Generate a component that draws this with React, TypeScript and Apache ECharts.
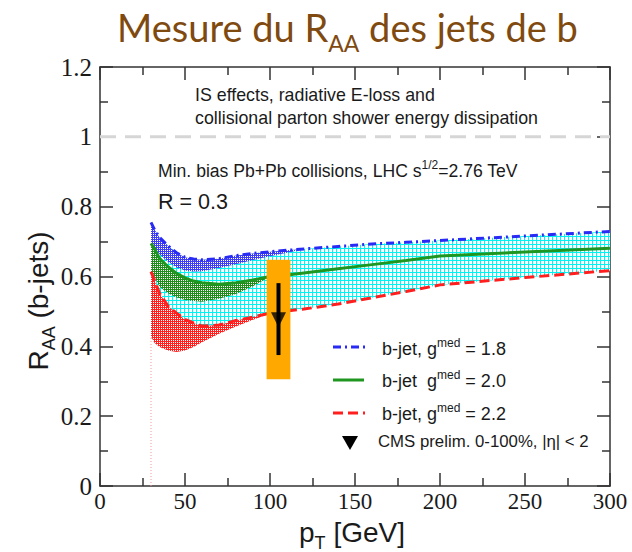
import React, { useEffect, useRef } from 'react';
import * as echarts from 'echarts';

// ---- data ----
const PT = [30, 32, 35, 40, 45, 50, 55, 60, 70, 80, 90, 100, 110, 120, 140, 160, 180, 200, 250, 300];
const G18 = [0.755, 0.735, 0.712, 0.688, 0.668, 0.655, 0.650, 0.648, 0.651, 0.660, 0.666, 0.671, 0.675, 0.679, 0.686, 0.693, 0.698, 0.703, 0.716, 0.729];
const G20 = [0.695, 0.680, 0.652, 0.628, 0.609, 0.596, 0.587, 0.582, 0.578, 0.582, 0.590, 0.600, 0.604, 0.610, 0.622, 0.634, 0.646, 0.659, 0.670, 0.681];
const G22 = [0.614, 0.590, 0.552, 0.515, 0.495, 0.477, 0.467, 0.458, 0.461, 0.474, 0.484, 0.495, 0.501, 0.507, 0.521, 0.539, 0.557, 0.576, 0.597, 0.617];
// lower edges of the low-pT shaded regions (same pT grid, shorter)
const G18_LOW = [0.695, 0.682, 0.664, 0.642, 0.626, 0.617, 0.614, 0.615, 0.624, 0.635, 0.647, 0.658, 0.668, 0.679];
const G20_LOW = [0.614, 0.600, 0.571, 0.552, 0.540, 0.533, 0.530, 0.528, 0.536, 0.550, 0.572, 0.600];
const G22_LOW = [0.428, 0.410, 0.398, 0.388, 0.384, 0.388, 0.398, 0.412, 0.436, 0.457, 0.476, 0.495];
// CMS preliminary point
const CMS_PT = [105];
const CMS_RAA = [0.476];
const CMS_STAT = [[0.375, 0.581]];
const CMS_SYS = [[98, 112, 0.306, 0.648]];
const PT_CUT = [[30, 0], [30, 0.43]];
const UNITY = [[0, 1], [300, 1]];

const BROWN = '#7f4a10';
const INK = '#1a1a1a';

function makePattern(size: number, draw: (ctx: CanvasRenderingContext2D) => void) {
  const c = document.createElement('canvas');
  c.width = size;
  c.height = size;
  const ctx = c.getContext('2d') as CanvasRenderingContext2D;
  draw(ctx);
  return { image: c.toDataURL(), repeat: 'repeat', imageWidth: size, imageHeight: size } as any;
}

function dotPattern(color: string) {
  return makePattern(2, (ctx) => {
    ctx.fillStyle = color;
    ctx.fillRect(0, 0, 2, 2);
    ctx.fillStyle = '#ffffff';
    ctx.fillRect(1, 0, 1, 1);
  });
}

function band(name: string, xs: number[], upper: number[], lower: number[], fill: any, z: number) {
  const n = lower.length;
  return {
    type: 'custom',
    name,
    z,
    silent: true,
    clip: true,
    data: [[xs[0], upper[0]]],
    renderItem: (_p: any, api: any) => {
      const top = [] as number[][];
      const bot = [] as number[][];
      for (let i = 0; i < n; i++) {
        top.push(api.coord([xs[i], upper[i]]));
        bot.push(api.coord([xs[i], lower[i]]));
      }
      return {
        type: 'polygon',
        shape: { points: top.concat(bot.reverse()) },
        style: { fill, stroke: null },
      };
    },
  };
}

export default function App() {
  const ref = useRef<HTMLDivElement>(null);
  useEffect(() => {
    if (!ref.current) return;
    const chart = echarts.init(ref.current, undefined, { renderer: 'svg' });

    const cyan = makePattern(4, (ctx) => {
      ctx.fillStyle = '#ffffff';
      ctx.fillRect(0, 0, 4, 4);
      ctx.fillStyle = '#00f4f4';
      ctx.fillRect(0, 0, 4, 1);
      ctx.fillRect(0, 0, 1, 4);
    });
    const bluePat = dotPattern('#4040f0');
    const greenPat = dotPattern('#1f8c1c');
    const redPat = dotPattern('#ff2020');

    const axisLine = { show: true, onZero: false, lineStyle: { color: '#333', width: 1.5 } };
    const axisTick = { show: true, inside: true, length: 13, lineStyle: { color: '#333', width: 1.5 } };
    const minorX = { show: true, splitNumber: 2, length: 8, lineStyle: { color: '#333', width: 1.5 } };
    const minorY = { show: true, splitNumber: 2, length: 8, lineStyle: { color: '#333', width: 1.5 } };

    const sans = 'Liberation Sans';

    const option: any = {
      animation: false,
      backgroundColor: '#ffffff',
      title: {
        text: '{a|Mesure du R}{s|AA}{a| des jets de b}',
        left: 117,
        top: 0,
        padding: 0,
        textStyle: {
          fontWeight: 'normal',
          rich: {
            a: { fontFamily: 'Lato', fontSize: 38, fontWeight: 'normal', color: BROWN, lineHeight: 54 },
            s: { fontFamily: 'Lato', fontSize: 23, fontWeight: 'normal', color: BROWN, lineHeight: 24, verticalAlign: 'bottom' },
          },
        },
      },
      grid: { left: 100, right: 22, top: 67, bottom: 66, containLabel: false },
      xAxis: [
        {
          type: 'value', min: 0, max: 300, interval: 50, position: 'bottom',
          axisLine, axisTick, minorTick: minorX,
          splitLine: { show: false },
          axisLabel: { fontFamily: 'Liberation Serif', fontSize: 23, color: INK, margin: 4 },
        },
        {
          type: 'value', min: 0, max: 300, interval: 50, position: 'top',
          axisLine, axisTick, minorTick: minorX,
          splitLine: { show: false }, axisLabel: { show: false },
        },
      ],
      yAxis: [
        {
          type: 'value', min: 0, max: 1.2, interval: 0.2, position: 'left',
          axisLine, axisTick, minorTick: minorY,
          splitLine: { show: false },
          axisLabel: { fontFamily: 'Liberation Serif', fontSize: 25, color: INK, margin: 8 },
        },
        {
          type: 'value', min: 0, max: 1.2, interval: 0.2, position: 'right',
          axisLine, axisTick, minorTick: minorY,
          splitLine: { show: false }, axisLabel: { show: false },
        },
      ],
      series: [
        band('cyan', PT, G18, G22, cyan, 1),
        band('blueRegion', PT, G18, G18_LOW, bluePat, 2),
        band('greenRegion', PT, G20, G20_LOW, greenPat, 3),
        band('redRegion', PT, G22, G22_LOW, redPat, 4),
        {
          type: 'line', name: 'unity', data: UNITY, symbol: 'none', z: 5, silent: true,
          lineStyle: { color: '#d6d6d6', width: 3, type: [16, 9] },
        },
        {
          type: 'line', name: 'cut', data: PT_CUT, symbol: 'none', z: 5, silent: true,
          lineStyle: { color: '#f29a9a', width: 1, type: [1, 2] },
        },
        {
          type: 'line', name: 'g18', data: PT.map((x, i) => [x, G18[i]]), symbol: 'none', z: 6,
          lineStyle: { color: '#2a2af5', width: 3, type: [8, 4, 2, 4] },
        },
        {
          type: 'line', name: 'g20', data: PT.map((x, i) => [x, G20[i]]), symbol: 'none', z: 6,
          lineStyle: { color: '#1f961f', width: 3, type: 'solid' },
        },
        {
          type: 'line', name: 'g22', data: PT.map((x, i) => [x, G22[i]]), symbol: 'none', z: 6,
          lineStyle: { color: '#ff1f1f', width: 3, type: [10, 5] },
        },
        {
          type: 'custom', name: 'sys', z: 7, silent: true,
          data: CMS_SYS,
          renderItem: (_p: any, api: any) => {
            const a = api.coord([api.value(0), api.value(3)]);
            const b = api.coord([api.value(1), api.value(2)]);
            return {
              type: 'rect',
              shape: { x: a[0], y: a[1], width: b[0] - a[0], height: b[1] - a[1] },
              style: { fill: '#ffa800' },
            };
          },
        },
        {
          type: 'custom', name: 'stat', z: 8, silent: true,
          data: CMS_PT.map((x, i) => [x, CMS_STAT[i][0], CMS_STAT[i][1]]),
          renderItem: (_p: any, api: any) => {
            const a = api.coord([api.value(0), api.value(1)]);
            const b = api.coord([api.value(0), api.value(2)]);
            return {
              type: 'line',
              shape: { x1: a[0], y1: a[1], x2: b[0], y2: b[1] },
              style: { stroke: '#000', lineWidth: 4 },
            };
          },
        },
        {
          type: 'scatter', name: 'CMS', z: 9, silent: true,
          data: CMS_PT.map((x, i) => [x, CMS_RAA[i]]),
          symbol: 'triangle', symbolRotate: 180, symbolSize: [15, 15],
          itemStyle: { color: '#000' },
        },
      ],
      graphic: [
        {
          type: 'text', x: 38, y: 301, rotation: Math.PI / 2, z: 10,
          style: {
            text: '{a|R}{s|AA}{a| (b-jets)}',
            align: 'center', verticalAlign: 'middle',
            rich: {
              a: { fontFamily: sans, fontSize: 28, fill: INK, lineHeight: 40 },
              s: { fontFamily: sans, fontSize: 18, fill: INK, lineHeight: 18, verticalAlign: 'bottom' },
            },
          },
        },
        {
          type: 'text', x: 352, y: 532, z: 10,
          style: {
            text: '{a|p}{s|T}{a| [GeV]}',
            align: 'center', verticalAlign: 'middle',
            rich: {
              a: { fontFamily: sans, fontSize: 28, fill: INK, lineHeight: 40 },
              s: { fontFamily: sans, fontSize: 18, fill: INK, lineHeight: 18, verticalAlign: 'bottom' },
            },
          },
        },
        {
          type: 'text', x: 195, y: 95, z: 10,
          style: { text: 'IS effects, radiative E-loss and', font: `17.8px ${sans}`, fill: INK, verticalAlign: 'middle' },
        },
        {
          type: 'text', x: 195, y: 118, z: 10,
          style: { text: 'collisional parton shower energy dissipation', font: `17.8px ${sans}`, fill: INK, verticalAlign: 'middle' },
        },
        {
          type: 'text', x: 158, y: 171, z: 10,
          style: {
            text: '{a|Min. bias Pb+Pb collisions, LHC s}{p|1/2}{a|=2.76 TeV}',
            verticalAlign: 'middle',
            rich: {
              a: { fontFamily: sans, fontSize: 17.6, fill: INK, lineHeight: 24 },
              p: { fontFamily: sans, fontSize: 12, fill: INK, lineHeight: 12, verticalAlign: 'top' },
            },
          },
        },
        {
          type: 'text', x: 158, y: 202, z: 10,
          style: { text: 'R = 0.3', font: `21.5px ${sans}`, fill: INK, verticalAlign: 'middle' },
        },
        // legend
        { type: 'line', z: 10, shape: { x1: 333, y1: 347, x2: 366, y2: 347 }, style: { stroke: '#2a2af5', lineWidth: 3, lineDash: [8, 4, 2, 4] } },
        { type: 'line', z: 10, shape: { x1: 333, y1: 380, x2: 364, y2: 380 }, style: { stroke: '#1f961f', lineWidth: 3 } },
        { type: 'line', z: 10, shape: { x1: 333, y1: 413, x2: 365, y2: 413 }, style: { stroke: '#ff1f1f', lineWidth: 3, lineDash: [10, 5] } },
        { type: 'polygon', z: 10, shape: { points: [[342, 436], [358, 436], [350, 450]] }, style: { fill: '#000' } },
        ...[
          { y: 349, t: '{a|b-jet, g}{p|med}{a| = 1.8}' },
          { y: 381, t: '{a|b-jet  g}{p|med}{a| = 2.0}' },
          { y: 414, t: '{a|b-jet, g}{p|med}{a| = 2.2}' },
        ].map((r) => ({
          type: 'text', x: 382, y: r.y, z: 10,
          style: {
            text: r.t, verticalAlign: 'middle',
            rich: {
              a: { fontFamily: sans, fontSize: 18, fill: INK, lineHeight: 24 },
              p: { fontFamily: sans, fontSize: 12, fill: INK, lineHeight: 12, verticalAlign: 'top' },
            },
          },
        })),
        {
          type: 'text', x: 378, y: 441, z: 10,
          style: { text: 'CMS prelim. 0-100%, |η| < 2', font: `16.8px ${sans}`, fill: INK, verticalAlign: 'middle' },
        },
      ],
    };

    chart.setOption(option);
    return () => chart.dispose();
  }, []);

  return (
    <div
      ref={ref}
      style={{ position: 'fixed', left: 0, top: 0, width: 632, height: 552, background: '#fff' }}
    />
  );
}
